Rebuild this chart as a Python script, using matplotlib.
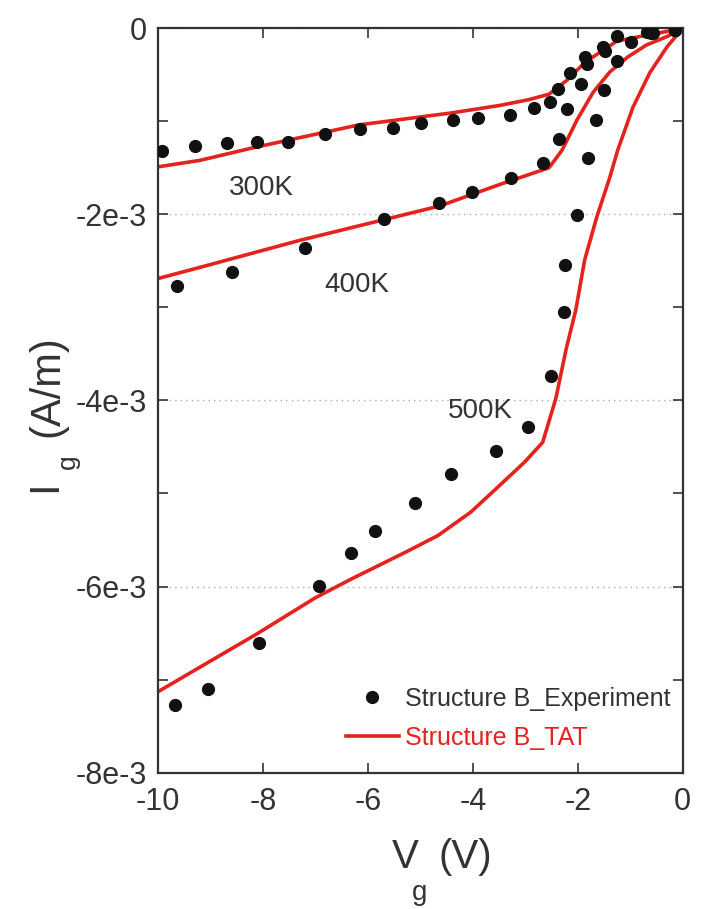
import numpy as np
import matplotlib
matplotlib.use("Agg")
import matplotlib.pyplot as plt
from matplotlib import font_manager
from matplotlib.ticker import MultipleLocator, FuncFormatter

# ------------------------
# Data (gate current in mA/m, i.e. units of 1e-3 A/m)
# ------------------------
# Experiment points
v_exp_300 = [-9.92, -9.30, -8.68, -8.12, -7.52, -6.82, -6.15, -5.53, -4.98, -4.37, -3.90,
             -3.30, -2.83, -2.53, -2.38, -2.15, -1.87, -1.52, -1.26, -0.69, -0.15]
i_exp_300 = [-1.32, -1.27, -1.23, -1.22, -1.22, -1.14, -1.08, -1.07, -1.02, -0.99, -0.96,
             -0.93, -0.86, -0.79, -0.65, -0.48, -0.31, -0.20, -0.08, -0.04, -0.02]

v_exp_400 = [-9.64, -8.60, -7.20, -5.70, -4.65, -4.02, -3.28, -2.66, -2.35, -2.20, -1.94,
             -1.83, -1.48, -0.60, -0.15]
i_exp_400 = [-2.77, -2.62, -2.36, -2.05, -1.88, -1.76, -1.61, -1.45, -1.19, -0.87, -0.60,
             -0.39, -0.25, -0.05, -0.02]

v_exp_500 = [-9.68, -9.05, -8.08, -6.94, -6.32, -5.86, -5.11, -4.42, -3.56, -2.95, -2.51,
             -2.27, -2.25, -2.02, -1.81, -1.66, -1.50, -1.26, -0.99, -0.57, -0.15]
i_exp_500 = [-7.27, -7.10, -6.61, -5.99, -5.64, -5.40, -5.10, -4.79, -4.54, -4.29, -3.74,
             -3.05, -2.54, -2.01, -1.40, -0.99, -0.66, -0.35, -0.15, -0.05, -0.02]

# TAT simulation curves
v_tat_300 = [-10, -9.2, -8.15, -6.18, -4.40, -3.49, -2.95, -2.55, -2.21, -1.87, -1.58,
             -1.26, -0.82, -0.44, 0]
i_tat_300 = [-1.49, -1.42, -1.28, -1.04, -0.91, -0.83, -0.77, -0.71, -0.56, -0.37, -0.26,
             -0.14, -0.09, -0.05, 0]

v_tat_400 = [-10, -9.2, -7.30, -5.71, -4.63, -3.49, -2.55, -2.30, -2.02, -1.71, -1.39,
             -1.05, -0.69, -0.30, 0]
i_tat_400 = [-2.69, -2.57, -2.28, -2.06, -1.91, -1.68, -1.50, -1.31, -0.99, -0.69, -0.47,
             -0.31, -0.18, -0.09, 0]

v_tat_500 = [-10, -9.0, -8.12, -7.0, -6.32, -5.28, -4.66, -4.04, -3.56, -3.01, -2.67,
             -2.42, -2.22, -2.04, -1.87, -1.64, -1.39, -1.24, -0.95, -0.63, -0.30, 0]
i_tat_500 = [-7.13, -6.80, -6.51, -6.12, -5.92, -5.63, -5.45, -5.20, -4.95, -4.66, -4.45,
             -3.98, -3.44, -3.03, -2.49, -2.03, -1.60, -1.31, -0.85, -0.48, -0.20, 0]

temp_labels = ["300K", "400K", "500K"]
temp_label_pos = [(-8.04, -1.72), (-6.21, -2.76), (-3.85, -4.11)]

y_ticks = [0, -2e-3, -4e-3, -6e-3, -8e-3]
y_tick_labels = ["0", "-2e-3", "-4e-3", "-6e-3", "-8e-3"]

# ------------------------
# Style
# ------------------------
names = {f.name for f in font_manager.fontManager.ttflist}
FONT = "Liberation Sans Narrow" if "Liberation Sans Narrow" in names else "Liberation Sans"
plt.rcParams["font.family"] = [FONT, "DejaVu Sans"]
plt.rcParams["axes.unicode_minus"] = False

TXT = "#333333"
RED = "#e5231e"

W, H = 712, 909
fig = plt.figure(figsize=(W / 100, H / 100), dpi=100)
ax = fig.add_axes([0.222, 0.150, 0.737, 0.819])

mA = 1e-3
for v, i in [(v_tat_300, i_tat_300), (v_tat_400, i_tat_400), (v_tat_500, i_tat_500)]:
    ax.plot(v, np.array(i) * mA, color=RED, lw=2.6, zorder=2)

for v, i in [(v_exp_300, i_exp_300), (v_exp_400, i_exp_400), (v_exp_500, i_exp_500)]:
    ax.plot(v, np.array(i) * mA, ls="none", marker="o", ms=8.5, color="#111111", zorder=3)

for lab, (x, y) in zip(temp_labels, temp_label_pos):
    ax.text(x, y * mA, lab, fontsize=20, color=TXT, ha="center", va="center")

ax.set_xlim(-10, 0)
ax.set_ylim(-8e-3, 0)
ax.xaxis.set_major_locator(MultipleLocator(2))
ax.set_yticks(y_ticks)
ax.set_yticklabels(y_tick_labels)
ax.yaxis.set_minor_locator(MultipleLocator(1e-3))
ax.xaxis.set_major_formatter(FuncFormatter(lambda x, p: f"{x:.0f}"))

ax.tick_params(which="both", direction="in", top=True, right=True, length=7, width=1.2,
               color=TXT, labelsize=22, labelcolor=TXT, pad=8)
ax.tick_params(axis="x", pad=10)
for s in ax.spines.values():
    s.set_linewidth(1.6)
    s.set_color(TXT)

# dotted horizontal grid at the labelled currents
ax.grid(axis="y", which="major", ls=(0, (1, 3)), color="#aaaaaa", lw=1.0)
ax.set_axisbelow(True)


# axis titles with a deeply dropped subscript
def px(x, y):
    return x / W, 1 - y / H


fig.text(*px(405, 857), "V", fontsize=29, color=TXT, ha="center", va="center")
fig.text(*px(420, 893), "g", fontsize=20, color=TXT, ha="center", va="center")
fig.text(*px(465, 857), "(V)", fontsize=29, color=TXT, ha="center", va="center")

fig.text(*px(45, 486), "I", fontsize=30, color=TXT, ha="center", va="center", rotation=90)
fig.text(*px(68, 462), "g", fontsize=19, color=TXT, ha="center", va="center", rotation=90)
fig.text(*px(47, 386), "(A/m)", fontsize=30, color=TXT, ha="center", va="center", rotation=90)

# legend
h_exp, = ax.plot([], [], ls="none", marker="o", ms=8.5, color="#111111")
h_tat, = ax.plot([], [], color=RED, lw=2.6)
leg = ax.legend([h_exp, h_tat], ["Structure B_Experiment", "Structure B_TAT"],
                loc="lower right", bbox_to_anchor=(1.02, 0.0), frameon=False,
                fontsize=18, handlelength=2.1, handletextpad=0.27, labelspacing=0.6,
                numpoints=1)
leg.get_texts()[0].set_color(TXT)
leg.get_texts()[1].set_color(RED)

fig.savefig("out.png", dpi=100)
